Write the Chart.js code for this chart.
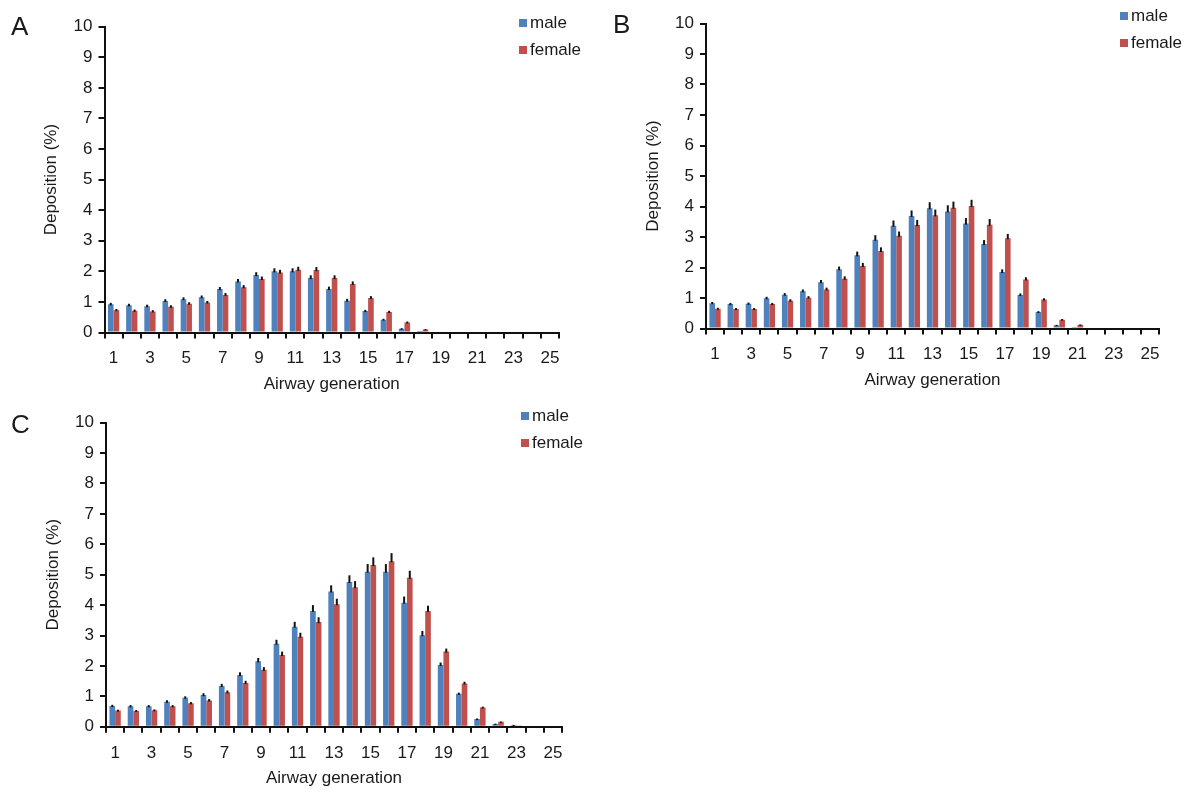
<!DOCTYPE html>
<html lang="en">
<head>
  <meta charset="UTF-8">
  <title>Deposition by airway generation</title>
  <script src="https://cdn.jsdelivr.net/npm/chart.js"></script>
  <style>
    body { margin: 0; background: #fff; font-family: "Liberation Sans", Arial, Helvetica, sans-serif; color: #1a1a1a; }
    .wrap { position: relative; width: 1193px; height: 794px; overflow: hidden; }
    .panel { position: absolute; }
    .letter { position: absolute; font-size: 26px; line-height: 26px; }
    .legend { position: absolute; font-size: 17px; line-height: 20px; }
    .legend div { height: 20px; margin-bottom: 7px; white-space: nowrap; }
    .legend span.sq { display: inline-block; width: 8px; height: 8px; margin-right: 3px; vertical-align: 1px; }
  </style>
</head>
<body>
<div class="wrap">
  <div class="panel" id="pA" style="left:0;top:0;width:600px;height:400px"><canvas id="chartA" width="600" height="400"></canvas></div>
  <div class="panel" id="pB" style="left:600px;top:0;width:593px;height:400px"><canvas id="chartB" width="593" height="400"></canvas></div>
  <div class="panel" id="pC" style="left:0;top:397px;width:600px;height:397px"><canvas id="chartC" width="600" height="397"></canvas></div>

  <div class="letter" style="left:11px;top:13px">A</div>
  <div class="letter" style="left:613px;top:11px">B</div>
  <div class="letter" style="left:11px;top:411px">C</div>

  <div class="legend" style="left:519px;top:13px">
    <div><span class="sq" style="background:#4F81BD"></span>male</div>
    <div><span class="sq" style="background:#C0504D"></span>female</div>
  </div>
  <div class="legend" style="left:1120px;top:6px">
    <div><span class="sq" style="background:#4F81BD"></span>male</div>
    <div><span class="sq" style="background:#C0504D"></span>female</div>
  </div>
  <div class="legend" style="left:521px;top:406px">
    <div><span class="sq" style="background:#4F81BD"></span>male</div>
    <div><span class="sq" style="background:#C0504D"></span>female</div>
  </div>
</div>

<script>
  // airway generations 1..25
  const generations = ['1','2','3','4','5','6','7','8','9','10','11','12','13','14','15','16','17','18','19','20','21','22','23','24','25'];
  const yTicks = [0, 1, 2, 3, 4, 5, 6, 7, 8, 9, 10];

  // panel A
  const maleA   = [0.92,0.89,0.86,1.03,1.09,1.15,1.42,1.67,1.88,2.00,2.00,1.78,1.42,1.04,0.70,0.42,0.12,0.01,0,0,0,0,0,0,0];
  const femaleA = [0.73,0.71,0.69,0.84,0.94,0.98,1.23,1.48,1.75,1.96,2.05,2.04,1.78,1.59,1.13,0.67,0.33,0.10,0,0,0,0,0,0,0];
  const maleErrA   = [0.05,0.05,0.05,0.06,0.06,0.06,0.07,0.08,0.09,0.10,0.10,0.09,0.08,0.06,0.04,0.03,0.02,0.01,0,0,0,0,0,0,0];
  const femaleErrA = [0.04,0.04,0.04,0.05,0.05,0.05,0.06,0.07,0.08,0.09,0.10,0.10,0.09,0.08,0.06,0.04,0.03,0.01,0,0,0,0,0,0,0];

  // panel B
  const maleB   = [0.83,0.80,0.81,0.99,1.11,1.22,1.52,1.94,2.40,2.91,3.37,3.69,3.94,3.84,3.44,2.77,1.85,1.10,0.54,0.11,0.01,0,0,0,0];
  const femaleB = [0.65,0.64,0.64,0.80,0.91,1.01,1.28,1.63,2.05,2.54,3.04,3.39,3.71,3.96,4.02,3.40,2.96,1.61,0.95,0.29,0.12,0,0,0,0];
  const maleErrB   = [0.04,0.04,0.04,0.05,0.05,0.06,0.07,0.09,0.12,0.15,0.17,0.18,0.20,0.20,0.18,0.13,0.09,0.05,0.03,0.01,0,0,0,0,0];
  const femaleErrB = [0.03,0.03,0.03,0.04,0.05,0.05,0.06,0.08,0.10,0.12,0.14,0.17,0.19,0.20,0.20,0.19,0.14,0.07,0.04,0.02,0.01,0,0,0,0];

  // panel C
  const maleC   = [0.68,0.67,0.67,0.82,0.95,1.04,1.34,1.70,2.15,2.73,3.29,3.81,4.45,4.76,5.10,5.10,4.08,3.01,2.03,1.08,0.25,0.09,0.05,0,0];
  const femaleC = [0.53,0.52,0.54,0.67,0.77,0.86,1.13,1.44,1.87,2.36,2.96,3.44,4.03,4.59,5.32,5.44,4.90,3.81,2.47,1.42,0.63,0.16,0.04,0,0];
  const maleErrC   = [0.04,0.04,0.04,0.05,0.05,0.06,0.07,0.09,0.11,0.13,0.16,0.19,0.20,0.22,0.25,0.25,0.20,0.14,0.08,0.04,0.02,0.01,0.01,0,0];
  const femaleErrC = [0.03,0.03,0.03,0.04,0.04,0.05,0.06,0.07,0.09,0.11,0.13,0.16,0.18,0.20,0.25,0.27,0.23,0.17,0.10,0.06,0.03,0.01,0,0,0];

  const BLUE = '#4F81BD';
  const RED = '#C0504D';
  const FONT = '"Liberation Sans", Arial, Helvetica, sans-serif';
  const Y_AXIS_W = 67;
  const X_AXIS_H = 66;

  // vertical error whiskers above each bar
  const errorBars = {
    id: 'errorBars',
    afterDatasetsDraw(chart) {
      const ctx = chart.ctx;
      const y = chart.scales.y;
      ctx.save();
      ctx.strokeStyle = '#111';
      ctx.lineWidth = 2;
      chart.data.datasets.forEach((ds, di) => {
        const meta = chart.getDatasetMeta(di);
        meta.data.forEach((bar, i) => {
          const e = ds.errors[i];
          if (!e) return;
          const top = y.getPixelForValue(ds.data[i] + e);
          ctx.beginPath();
          ctx.moveTo(bar.x, bar.y + 1);
          ctx.lineTo(bar.x, top);
          ctx.stroke();
        });
      });
      ctx.restore();
    }
  };

  // box = panel position/size, area = wanted plot area in page pixels
  function makeChart(id, box, area, male, female, maleErr, femaleErr) {
    const ctx = document.getElementById(id).getContext('2d');
    return new Chart(ctx, {
      type: 'bar',
      data: {
        labels: generations,
        datasets: [
          { label: 'male', data: male, errors: maleErr, backgroundColor: BLUE,
            categoryPercentage: 0.62, barPercentage: 1.0 },
          { label: 'female', data: female, errors: femaleErr, backgroundColor: RED,
            categoryPercentage: 0.62, barPercentage: 1.0 }
        ]
      },
      options: {
        responsive: false,
        animation: false,
        devicePixelRatio: 1,
        layout: {
          padding: {
            left: area.left - box.x - Y_AXIS_W,
            right: box.x + box.w - area.right,
            top: area.top - box.y,
            bottom: box.y + box.h - area.bottom - X_AXIS_H
          }
        },
        plugins: {
          legend: { display: false },
          tooltip: { enabled: false }
        },
        scales: {
          x: {
            grid: { display: true, drawOnChartArea: false, drawTicks: true, tickLength: 6, color: '#111', lineWidth: 2 },
            border: { display: true, color: '#111', width: 2 },
            ticks: {
              autoSkip: false, maxRotation: 0, padding: 10,
              color: '#1a1a1a', font: { family: FONT, size: 17 },
              callback: function (val, idx) { return idx % 2 === 0 ? this.getLabelForValue(val) : ''; }
            },
            title: { display: true, text: 'Airway generation', color: '#1a1a1a', font: { family: FONT, size: 17 }, padding: 4 },
            afterFit: (s) => { s.height = X_AXIS_H; }
          },
          y: {
            min: 0, max: 10,
            afterBuildTicks: (s) => { s.ticks = yTicks.map(v => ({ value: v })); },
            grid: { display: true, drawOnChartArea: false, drawTicks: true, tickLength: 6, color: '#111', lineWidth: 2 },
            border: { display: true, color: '#111', width: 2 },
            ticks: { padding: 6, color: '#1a1a1a', font: { family: FONT, size: 17 } },
            title: { display: true, text: 'Deposition (%)', color: '#1a1a1a', font: { family: FONT, size: 17 }, padding: 4 },
            afterFit: (s) => { s.width = Y_AXIS_W; }
          }
        }
      },
      plugins: [errorBars]
    });
  }

  makeChart('chartA', { x: 0, y: 0, w: 600, h: 400 }, { left: 104.5, right: 559, top: 26.7, bottom: 332.5 },
    maleA, femaleA, maleErrA, femaleErrA);
  makeChart('chartB', { x: 600, y: 0, w: 593, h: 400 }, { left: 706, right: 1159, top: 23.5, bottom: 328.5 },
    maleB, femaleB, maleErrB, femaleErrB);
  makeChart('chartC', { x: 0, y: 397, w: 600, h: 397 }, { left: 106, right: 562, top: 422.7, bottom: 726.7 },
    maleC, femaleC, maleErrC, femaleErrC);
</script>
</body>
</html>
